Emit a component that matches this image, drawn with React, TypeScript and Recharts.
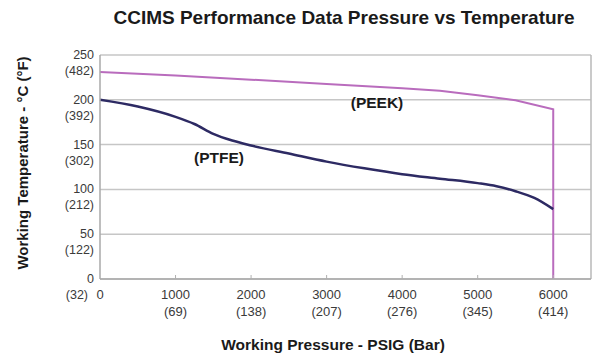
import React from 'react'
import { LineChart, Line, XAxis, YAxis, CartesianGrid, ReferenceLine } from 'recharts'

// working pressure (psig) vs max working temperature (°C)
const peekPressure = [0, 1000, 2000, 3000, 4000, 4500, 5000, 5500, 6000, 6000]
const peekTemp = [231, 227, 222.5, 217.7, 213, 210, 205, 199.5, 189.5, 0]

const ptfePressure = [0, 500, 1000, 1250, 1500, 1750, 2000, 2500, 3000, 3500, 4000, 4500, 5000, 5250, 5500, 5750, 6000]
const ptfeTemp = [200, 192.5, 181, 173, 162, 154.5, 149, 140, 131, 123.5, 117, 112, 107, 103.5, 98, 90.5, 78]

const pressureTicks = [0, 1000, 2000, 3000, 4000, 5000, 6000]
const barLabels = ['', '(69)', '(138)', '(207)', '(276)', '(345)', '(414)']
const tempTicks = [0, 50, 100, 150, 200, 250]
const fahrenheitLabels = ['(32)', '(122)', '(212)', '(302)', '(392)', '(482)']

const peekData = peekPressure.map((p, i) => ({ pressure: p, temp: peekTemp[i] }))
const ptfeData = ptfePressure.map((p, i) => ({ pressure: p, temp: ptfeTemp[i] }))

const FONT = '"Liberation Sans", Arial, sans-serif'
const TICK_COLOR = '#3a3a3a'

function PressureTick({ x, y, payload, index }: any) {
  const bar = barLabels[index]
  return (
    <g>
      {payload.value > 0 && <line x1={x} y1={y} x2={x} y2={y - 4} stroke="#b0b0b0" />}
      <text x={x} y={y + 20} textAnchor="middle" fontSize={13} fill={TICK_COLOR} fontFamily={FONT}>
        {payload.value}
      </text>
      {bar && (
        <text x={x} y={y + 37} textAnchor="middle" fontSize={13} fill={TICK_COLOR} fontFamily={FONT}>
          {bar}
        </text>
      )}
    </g>
  )
}

function TempTick({ x, y, payload, index }: any) {
  const bottom = payload.value === 0
  return (
    <g>
      <text x={x - 6} y={y + 4} textAnchor="end" fontSize={12.5} fill={TICK_COLOR} fontFamily={FONT}>
        {payload.value}
      </text>
      <text x={bottom ? x - 12 : x - 6} y={y + 20} textAnchor="end" fontSize={12.5} fill={TICK_COLOR} fontFamily={FONT}>
        {fahrenheitLabels[index]}
      </text>
    </g>
  )
}

const textStyle: React.CSSProperties = {
  position: 'absolute',
  fontFamily: FONT,
  fontWeight: 'bold',
  color: '#1a1a1a',
  whiteSpace: 'nowrap',
  transform: 'translate(-50%, -50%)',
}

export default function App() {
  return (
    <div style={{ position: 'absolute', left: 0, top: 0, width: 593, height: 355, background: '#fff' }}>
      <LineChart width={593} height={355} margin={{ top: 55, right: 2, bottom: 36, left: 40 }}>
        <CartesianGrid vertical={false} stroke="#c6c6c6" strokeWidth={1.5} />
        <XAxis
          type="number"
          dataKey="pressure"
          domain={[0, 6500]}
          ticks={pressureTicks}
          height={40}
          tickSize={0}
          tickMargin={0}
          tickLine={false}
          axisLine={{ stroke: '#a8a8a8', strokeWidth: 1.5 }}
          tick={<PressureTick />}
          interval={0}
          allowDuplicatedCategory={false}
        />
        <YAxis
          type="number"
          dataKey="temp"
          domain={[0, 250]}
          ticks={tempTicks}
          width={60}
          tickSize={0}
          tickMargin={0}
          tickLine={false}
          axisLine={{ stroke: '#a8a8a8', strokeWidth: 1.5 }}
          tick={<TempTick />}
          interval={0}
        />
        <ReferenceLine x={6500} stroke="#b8b8b8" strokeWidth={1.5} />
        <Line
          data={peekData}
          dataKey="temp"
          type="linear"
          stroke="#b96cbd"
          strokeWidth={2}
          dot={false}
          isAnimationActive={false}
        />
        <Line
          data={ptfeData}
          dataKey="temp"
          type="monotone"
          stroke="#2d2a63"
          strokeWidth={2.5}
          dot={false}
          isAnimationActive={false}
        />
      </LineChart>
      <div style={{ ...textStyle, left: 344, top: 18, fontSize: 19 }}>
        CCIMS Performance Data Pressure vs Temperature
      </div>
      <div style={{ ...textStyle, left: 22, top: 163, fontSize: 15, transform: 'translate(-50%, -50%) rotate(-90deg)' }}>
        Working Temperature - °C (°F)
      </div>
      <div style={{ ...textStyle, left: 333, top: 345, fontSize: 15.5 }}>Working Pressure - PSIG (Bar)</div>
      <div style={{ ...textStyle, left: 377, top: 103, fontSize: 15.5 }}>(PEEK)</div>
      <div style={{ ...textStyle, left: 219, top: 158, fontSize: 15.5 }}>(PTFE)</div>
    </div>
  )
}
